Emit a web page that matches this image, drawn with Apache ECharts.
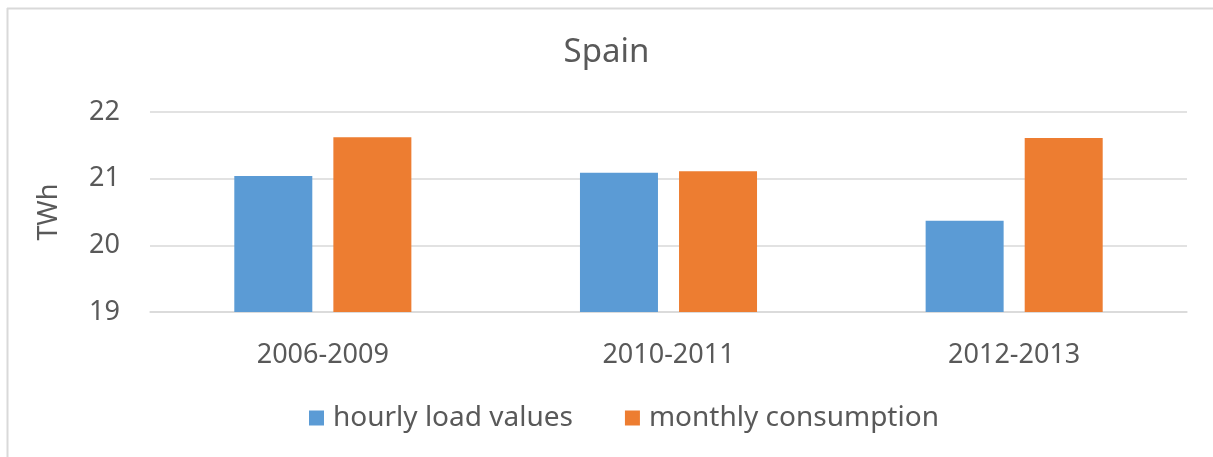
<!DOCTYPE html>
<html lang="en">
<head>
<meta charset="utf-8">
<title>Spain</title>
<style>
  html, body { margin: 0; padding: 0; background: #fff; }
  #chart { width: 1213px; height: 457px; }
</style>
</head>
<body>
<div id="chart"></div>
<script src="https://cdn.jsdelivr.net/npm/echarts@6/dist/echarts.min.js"></script>
<script>
var periods = ['2006-2009', '2010-2011', '2012-2013'];
var hourlyLoad = [21.04, 21.09, 20.37];
var monthlyCons = [21.62, 21.11, 21.61];
var yTicks = { min: 19, max: 22, step: 1 };

var txt = '#595959';
var font = 'Noto Sans';

var chart = echarts.init(document.getElementById('chart'));
chart.setOption({
  animation: false,
  textStyle: { fontFamily: font },
  title: {
    text: 'Spain',
    left: 'center',
    top: 31,
    textStyle: { fontFamily: font, fontSize: 33, fontWeight: 'normal', color: txt }
  },
  // outer chart-area frame (top and left edge only visible)
  graphic: [
    { type: 'line', shape: { x1: 7, y1: 8.5, x2: 1213, y2: 8.5 }, style: { stroke: '#D9D9D9', lineWidth: 2 } },
    { type: 'line', shape: { x1: 7.5, y1: 8, x2: 7.5, y2: 457 }, style: { stroke: '#D9D9D9', lineWidth: 2 } }
  ],
  legend: {
    bottom: 20,
    left: 304,
    itemWidth: 15,
    itemHeight: 15,
    itemGap: 52,
    icon: 'rect',
    textStyle: { fontFamily: font, fontSize: 28, color: txt, padding: [0, 0, 0, 4] }
  },
  grid: { left: 150, right: 26, top: 112, bottom: 145 },
  xAxis: {
    type: 'category',
    data: periods,
    axisLine: { lineStyle: { color: '#D9D9D9', width: 1.5 } },
    axisTick: { show: false },
    axisLabel: { margin: 30, fontSize: 27, color: txt, fontFamily: font }
  },
  yAxis: {
    type: 'value',
    min: yTicks.min,
    max: yTicks.max,
    interval: yTicks.step,
    name: 'TWh',
    nameLocation: 'middle',
    nameRotate: 90,
    nameGap: 87,
    nameTextStyle: { fontSize: 27, color: txt, fontFamily: font },
    axisLine: { show: false },
    axisTick: { show: false },
    axisLabel: { margin: 30, fontSize: 27, color: txt, fontFamily: font },
    splitLine: { lineStyle: { color: '#D9D9D9', width: 1.5 } }
  },
  series: [
    {
      name: 'hourly load values',
      type: 'bar',
      data: hourlyLoad,
      barWidth: 78,
      barGap: '27%',
      itemStyle: { color: '#5B9BD5' }
    },
    {
      name: 'monthly consumption',
      type: 'bar',
      data: monthlyCons,
      barWidth: 78,
      itemStyle: { color: '#ED7D31' }
    }
  ]
});
</script>
</body>
</html>
